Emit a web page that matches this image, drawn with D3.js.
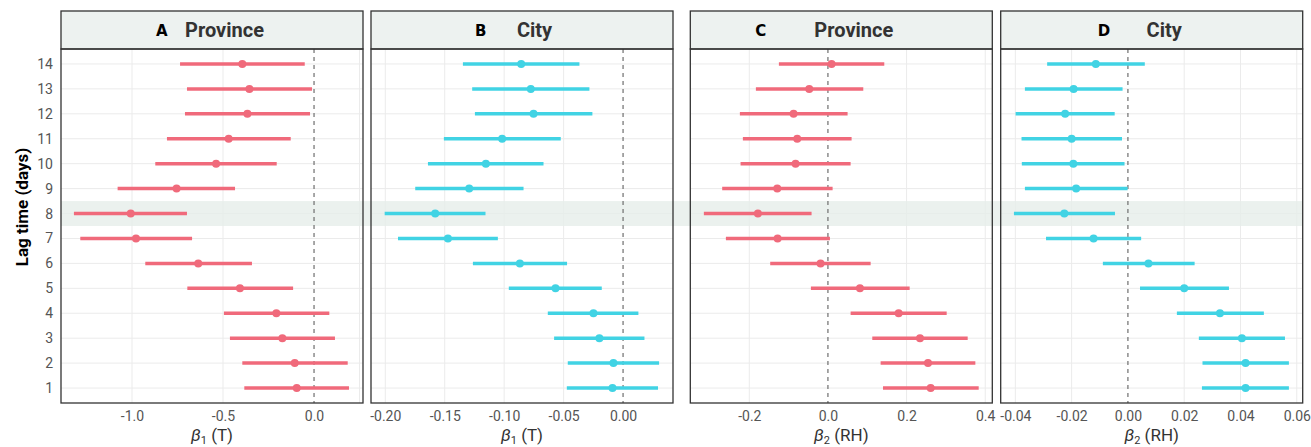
<!DOCTYPE html>
<html>
<head>
<meta charset="utf-8">
<script src="https://cdn.jsdelivr.net/npm/d3@7"></script>
<style>
  body { margin: 0; background: #fff; }
  svg { display: block; font-family: Roboto, "Liberation Sans", sans-serif; }
</style>
</head>
<body>
<svg id="chart" width="1311" height="447"></svg>
<script>
// lag times (days)
const lagDays = [1, 2, 3, 4, 5, 6, 7, 8, 9, 10, 11, 12, 13, 14];

// A - Province, beta1 (T)
const provT_est = [-0.095, -0.106, -0.174, -0.207, -0.407, -0.636, -0.978, -1.007, -0.755, -0.538, -0.469, -0.366, -0.355, -0.394];
const provT_lo  = [-0.383, -0.394, -0.462, -0.495, -0.696, -0.927, -1.284, -1.319, -1.079, -0.872, -0.808, -0.709, -0.698, -0.736];
const provT_hi  = [0.192, 0.185, 0.115, 0.084, -0.115, -0.341, -0.670, -0.698, -0.434, -0.205, -0.128, -0.022, -0.011, -0.051];

// B - City, beta1 (T)
const cityT_est = [-0.0089, -0.0081, -0.0199, -0.0249, -0.0568, -0.0868, -0.1473, -0.1580, -0.1294, -0.1154, -0.1017, -0.0753, -0.0776, -0.0857];
const cityT_lo  = [-0.0473, -0.0465, -0.0580, -0.0633, -0.0961, -0.1263, -0.1893, -0.2005, -0.1748, -0.1641, -0.1507, -0.1246, -0.1269, -0.1347];
const cityT_hi  = [0.0294, 0.0303, 0.0180, 0.0129, -0.0179, -0.0471, -0.1053, -0.1157, -0.0837, -0.0669, -0.0524, -0.0258, -0.0283, -0.0367];

// C - Province, beta2 (RH)
const provRH_est = [0.2613, 0.2545, 0.2341, 0.1798, 0.0814, -0.0187, -0.1280, -0.1781, -0.1289, -0.0823, -0.0781, -0.0874, -0.0475, 0.0093];
const provRH_lo  = [0.1400, 0.1340, 0.1128, 0.0577, -0.0433, -0.1468, -0.2595, -0.3155, -0.2689, -0.2222, -0.2163, -0.2239, -0.1832, -0.1247];
const provRH_hi  = [0.3834, 0.3749, 0.3554, 0.3020, 0.2078, 0.1086, 0.0051, -0.0416, 0.0119, 0.0577, 0.0602, 0.0500, 0.0899, 0.1433];

// D - City, beta2 (RH)
const cityRH_est = [0.0418, 0.0418, 0.0405, 0.0327, 0.0200, 0.0073, -0.0122, -0.0226, -0.0184, -0.0194, -0.0200, -0.0223, -0.0193, -0.0114];
const cityRH_lo  = [0.0263, 0.0265, 0.0252, 0.0174, 0.0043, -0.0089, -0.0291, -0.0405, -0.0366, -0.0377, -0.0378, -0.0399, -0.0366, -0.0287];
const cityRH_hi  = [0.0572, 0.0572, 0.0558, 0.0483, 0.0359, 0.0237, 0.0047, -0.0046, -0.0001, -0.0012, -0.0021, -0.0047, -0.0019, 0.0060];

const highlightLag = 8;

const provColor = "#f06a7b";
const cityColor = "#41d3e4";

const stripTop = 11, stripH = 38, plotBottom = 403;
const panelW = 302;

const panels = [
  { tag: "A", name: "Province", left: 61,    tagX: 95,  dom: [-1.39, 0.269],   ticks: [-1.0, -0.5, 0.0], grid: [-1.0, -0.5, 0.25], fmt: ".1f", est: provT_est, lo: provT_lo, hi: provT_hi, color: provColor, sub: "1", unit: "(T)" },
  { tag: "B", name: "City",     left: 371,   tagX: 104, dom: [-0.212, 0.042],  ticks: [-0.20, -0.15, -0.10, -0.05, 0.00], grid: [-0.20, -0.15, -0.10, -0.05], fmt: ".2f", est: cityT_est, lo: cityT_lo, hi: cityT_hi, color: cityColor, sub: "1", unit: "(T)" },
  { tag: "C", name: "Province", left: 690.3, tagX: 65,  dom: [-0.350, 0.418], ticks: [-0.2, 0.0, 0.2, 0.4], grid: [-0.2, 0.2, 0.4], fmt: ".1f", est: provRH_est, lo: provRH_lo, hi: provRH_hi, color: provColor, sub: "2", unit: "(RH)" },
  { tag: "D", name: "City",     left: 1000.7, tagX: 97, dom: [-0.0452, 0.0621], ticks: [-0.04, -0.02, 0.00, 0.02, 0.04, 0.06], grid: [-0.04, -0.02, 0.02, 0.04, 0.06], fmt: ".2f", est: cityRH_est, lo: cityRH_lo, hi: cityRH_hi, color: cityColor, sub: "2", unit: "(RH)" }
];

const svg = d3.select("#chart");

const y = d3.scalePoint()
    .domain(lagDays)
    .range([plotBottom, stripTop + stripH])
    .padding(0.6);

const gridLayer = svg.append("g");
const bandLayer = svg.append("g");
const markLayer = svg.append("g");
const frameLayer = svg.append("g");

// Function to format ticks with a plain hyphen
function tickFmt(f) {
    const base = d3.format(f);
    return v => base(v).replace("\u2212", "-");
}

panels.forEach(p => {
    const x = d3.scaleLinear().domain(p.dom).range([p.left, p.left + panelW]);
    const plotTop = stripTop + stripH;

    // gridlines
    gridLayer.selectAll(null)
        .data(lagDays)
        .enter().append("line")
        .attr("x1", p.left).attr("x2", p.left + panelW)
        .attr("y1", d => y(d)).attr("y2", d => y(d))
        .attr("stroke", "#ebebeb").attr("stroke-width", 1);

    gridLayer.selectAll(null)
        .data(p.grid)
        .enter().append("line")
        .attr("x1", d => x(d)).attr("x2", d => x(d))
        .attr("y1", plotTop).attr("y2", plotBottom)
        .attr("stroke", "#ebebeb").attr("stroke-width", 1);

    // zero reference
    markLayer.append("line")
        .attr("x1", x(0)).attr("x2", x(0))
        .attr("y1", plotTop).attr("y2", plotBottom)
        .attr("stroke", "#6e6e6e")
        .attr("stroke-width", 1.2)
        .attr("stroke-dasharray", "4,4");

    const rows = lagDays.map((d, i) => ({ lag: d, est: p.est[i], lo: p.lo[i], hi: p.hi[i] }));

    // confidence intervals
    markLayer.selectAll(null)
        .data(rows)
        .enter().append("line")
        .attr("x1", d => x(d.lo)).attr("x2", d => x(d.hi))
        .attr("y1", d => y(d.lag)).attr("y2", d => y(d.lag))
        .attr("stroke", p.color)
        .attr("stroke-width", 3.5);

    // point estimates
    markLayer.selectAll(null)
        .data(rows)
        .enter().append("circle")
        .attr("cx", d => x(d.est))
        .attr("cy", d => y(d.lag))
        .attr("r", 4)
        .attr("fill", p.color);

    // x axis
    const xAxis = frameLayer.append("g")
        .attr("transform", `translate(0,${plotBottom})`)
        .call(d3.axisBottom(x).tickValues(p.ticks).tickFormat(tickFmt(p.fmt)).tickSize(0).tickPadding(8));
    xAxis.select(".domain").remove();
    xAxis.selectAll("text")
        .attr("fill", "#555")
        .style("font-size", "14px")
        .style("font-family", "Roboto, sans-serif");

    // x axis title
    const title = frameLayer.append("text")
        .attr("x", p.left + panelW / 2)
        .attr("y", 441)
        .attr("text-anchor", "middle")
        .attr("fill", "#333")
        .style("font-size", "17px");
    title.append("tspan").attr("font-style", "italic").text("\u03b2");
    title.append("tspan").attr("dy", 3).style("font-size", "11px").text(p.sub);
    title.append("tspan").attr("dy", -3).text(" " + p.unit);

    // strip
    frameLayer.append("rect")
        .attr("x", p.left).attr("y", stripTop)
        .attr("width", panelW).attr("height", stripH)
        .attr("fill", "#edf2f0")
        .attr("stroke", "#333")
        .attr("stroke-width", 1.3);

    frameLayer.append("text")
        .attr("x", p.left + p.tagX)
        .attr("y", 36)
        .attr("fill", "#000")
        .style("font-family", "'DejaVu Sans', sans-serif")
        .style("font-weight", "bold")
        .style("font-size", "15px")
        .text(p.tag);

    frameLayer.append("text")
        .attr("x", p.left + 163.5)
        .attr("y", 36.5)
        .attr("text-anchor", "middle")
        .attr("fill", "#333")
        .style("font-weight", "bold")
        .style("font-size", "20px")
        .text(p.name);

    // panel border
    frameLayer.append("rect")
        .attr("x", p.left).attr("y", plotTop)
        .attr("width", panelW).attr("height", plotBottom - plotTop)
        .attr("fill", "none")
        .attr("stroke", "#333")
        .attr("stroke-width", 1.3);
});

// highlighted lag row across all panels
bandLayer.append("rect")
    .attr("x", panels[0].left)
    .attr("y", y(highlightLag) - y.step() / 2)
    .attr("width", panels[3].left + panelW - panels[0].left)
    .attr("height", y.step())
    .attr("fill", "#e6edea")
    .attr("opacity", 0.8);

// y axis
const yAxis = frameLayer.append("g")
    .attr("transform", `translate(${panels[0].left},0)`)
    .call(d3.axisLeft(y).tickSize(0).tickPadding(8));
yAxis.select(".domain").remove();
yAxis.selectAll("text")
    .attr("fill", "#555")
    .style("font-size", "14px")
    .style("font-family", "Roboto, sans-serif");

frameLayer.append("text")
    .attr("transform", `translate(28,${(stripTop + plotBottom) / 2}) rotate(-90)`)
    .attr("text-anchor", "middle")
    .attr("fill", "#000")
    .style("font-weight", "bold")
    .style("font-size", "17px")
    .text("Lag time (days)");
</script>
</body>
</html>
